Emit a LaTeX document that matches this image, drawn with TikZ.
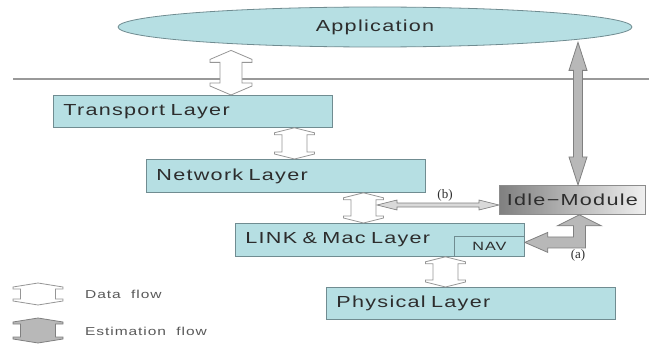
\documentclass[tikz,border=0pt]{standalone}
\usepackage{fontspec}
\setmainfont{Liberation Sans}[FakeStretch=1.35, LetterSpace=8, WordSpace=2]
\newfontfamily\labelfont{Liberation Serif}
\usetikzlibrary{shapes.geometric,calc}

\definecolor{boxfill}{RGB}{182,223,227}
\definecolor{boxline}{RGB}{112,140,145}
\definecolor{txt}{RGB}{45,45,45}
\definecolor{flowline}{RGB}{150,150,150}
\definecolor{estfill}{RGB}{184,184,184}
\definecolor{estline}{RGB}{128,128,128}

% vertical double block arrow: style, top point, bottom point,
% head half width, shaft half width, head height, step height
\newcommand{\vflow}[7]{%
  \path[#1] let \p1=#2, \p2=#3 in
    (\x1,\y1) -- (\x1+#4pt,\y1-#6pt) -- (\x1+#4pt,\y1-#6pt-#7pt)
    -- (\x1+#5pt,\y1-#6pt-#7pt) -- (\x1+#5pt,\y2+#6pt+#7pt)
    -- (\x1+#4pt,\y2+#6pt+#7pt) -- (\x1+#4pt,\y2+#6pt) -- (\x1,\y2)
    -- (\x1-#4pt,\y2+#6pt) -- (\x1-#4pt,\y2+#6pt+#7pt)
    -- (\x1-#5pt,\y2+#6pt+#7pt) -- (\x1-#5pt,\y1-#6pt-#7pt)
    -- (\x1-#4pt,\y1-#6pt-#7pt) -- (\x1-#4pt,\y1-#6pt) -- cycle;}

% horizontal thin double arrow: style, left point, right point
\newcommand{\hflow}[3]{%
  \path[#1] let \p1=#2, \p2=#3 in
    (\x1,\y2) -- (\x1+20pt,\y2+5pt) -- (\x1+20pt,\y2+2pt)
    -- (\x2-20pt,\y2+2pt) -- (\x2-20pt,\y2+5pt) -- (\x2,\y2)
    -- (\x2-20pt,\y2-5pt) -- (\x2-20pt,\y2-2pt)
    -- (\x1+20pt,\y2-2pt) -- (\x1+20pt,\y2-5pt) -- cycle;}

\begin{document}
\begin{tikzpicture}[x=1pt,y=-1pt,
  layer/.style={draw=boxline, fill=boxfill, line width=0.8pt, anchor=north west,
    inner xsep=10pt, inner ysep=0pt, align=left, text=txt,
    font=\fontsize{16}{18}\selectfont},
  dataflow/.style={draw=flowline, fill=white, line width=0.8pt, line join=miter},
  estflow/.style={draw=estline, fill=estfill, line width=0.8pt, line join=miter},
  thinflow/.style={draw=estline, fill=black!15, line width=0.7pt},
  legendtext/.style={anchor=west, inner sep=0pt, text=black!65,
    font=\fontsize{11.5}{13}\selectfont},
  flowlabel/.style={inner sep=0pt, text=txt, font=\labelfont\fontsize{13}{14}\selectfont}]

\useasboundingbox (0,0) rectangle (649,345);

% separator between application and the protocol stack
\coordinate (hlL) at (13,79);
\coordinate (hlR) at (649,79);
\draw[black!40, line width=1.2pt] (hlL) -- (hlR);

% application
\node[ellipse, draw=boxline, fill=boxfill, line width=0.8pt, minimum width=514,
  minimum height=40, inner sep=0pt, text=txt, font=\fontsize{16}{18}\selectfont]
  (app) at (375,27) {Application};

% protocol layers
\node[layer, minimum height=32, text width=259] (tr) at (53,95) {Transport Layer};
\node[layer, minimum height=33, text width=259] (net) at (146,159) {Network Layer};
\node[layer, minimum height=33, text width=269] (link) at (235,223) {LINK \& Mac Layer};
\node[layer, minimum height=32, text width=269] (phy) at (326,287) {Physical Layer};
\node[draw=boxline, fill=boxfill, line width=0.8pt, anchor=north west, inner sep=0pt,
  minimum width=70, minimum height=20, text=txt, font=\fontsize{12}{14}\selectfont]
  (nav) at (454,236) {NAV};

% idle module
\node[draw=black!45, left color=black!50, right color=black!6, line width=0.8pt,
  anchor=north west, inner sep=0pt, minimum width=146, minimum height=29, text=txt,
  font=\fontsize{16}{18}\selectfont] (idle) at (499,185) {Idle−Module};

% data flow between layers
\vflow{dataflow}{($(app.south)+(-144,3)$)}{(tr.north)}{21}{11}{9}{3}
\vflow{dataflow}{($(tr.south)+(101.5,0)$)}{(net.north)}{20}{12.5}{5}{2}
\vflow{dataflow}{($(net.south)+(77.5,0)$)}{(link.north)}{20}{12.5}{5}{2}
\vflow{dataflow}{($(link.south)+(65.5,0)$)}{(phy.north)}{20}{12.5}{5}{2}

% estimation flow between idle module and application
\vflow{estflow}{($(app.south)+(203,-5)$)}{($(idle.north)+(6,0)$)}{9}{4.5}{28}{0}

% (b): idle module and the data path
\coordinate (btap) at (377,205);
\hflow{thinflow}{(btap)}{(btap -| idle.west)}
\node[flowlabel] (lb) at (445,195) {(b)};

% (a): idle module and NAV
\path[estflow] let \p1=(idle.south), \p2=(nav.east) in
  (\x1+7pt,\y1) -- (\x1+29pt,\y1-11pt) -- (\x1+13pt,\y1-11pt)
  -- (\x1+13pt,\y2-1.5pt) -- (\x2+23pt,\y2-1.5pt) -- (\x2+23pt,\y2-6pt)
  -- (\x2,\y2+4pt) -- (\x2+23pt,\y2+14pt) -- (\x2+23pt,\y2+9.5pt)
  -- (\x1+1pt,\y2+9.5pt) -- (\x1+1pt,\y1-11pt) -- (\x1-15pt,\y1-11pt) -- cycle;
\node[flowlabel] (la) at (578,255) {(a)};

% legend
\coordinate (lg1t) at (38,283);
\coordinate (lg1b) at (38,305);
\coordinate (lg2t) at (38,318);
\coordinate (lg2b) at (38,343);
\vflow{dataflow}{(lg1t)}{(lg1b)}{25}{17.5}{4}{2}
\vflow{estflow}{(lg2t)}{(lg2b)}{25}{17.5}{4}{2}
\node[legendtext] (lt1) at (85,294) {Data flow};
\node[legendtext] (lt2) at (85,331) {Estimation flow};

\end{tikzpicture}
\end{document}
